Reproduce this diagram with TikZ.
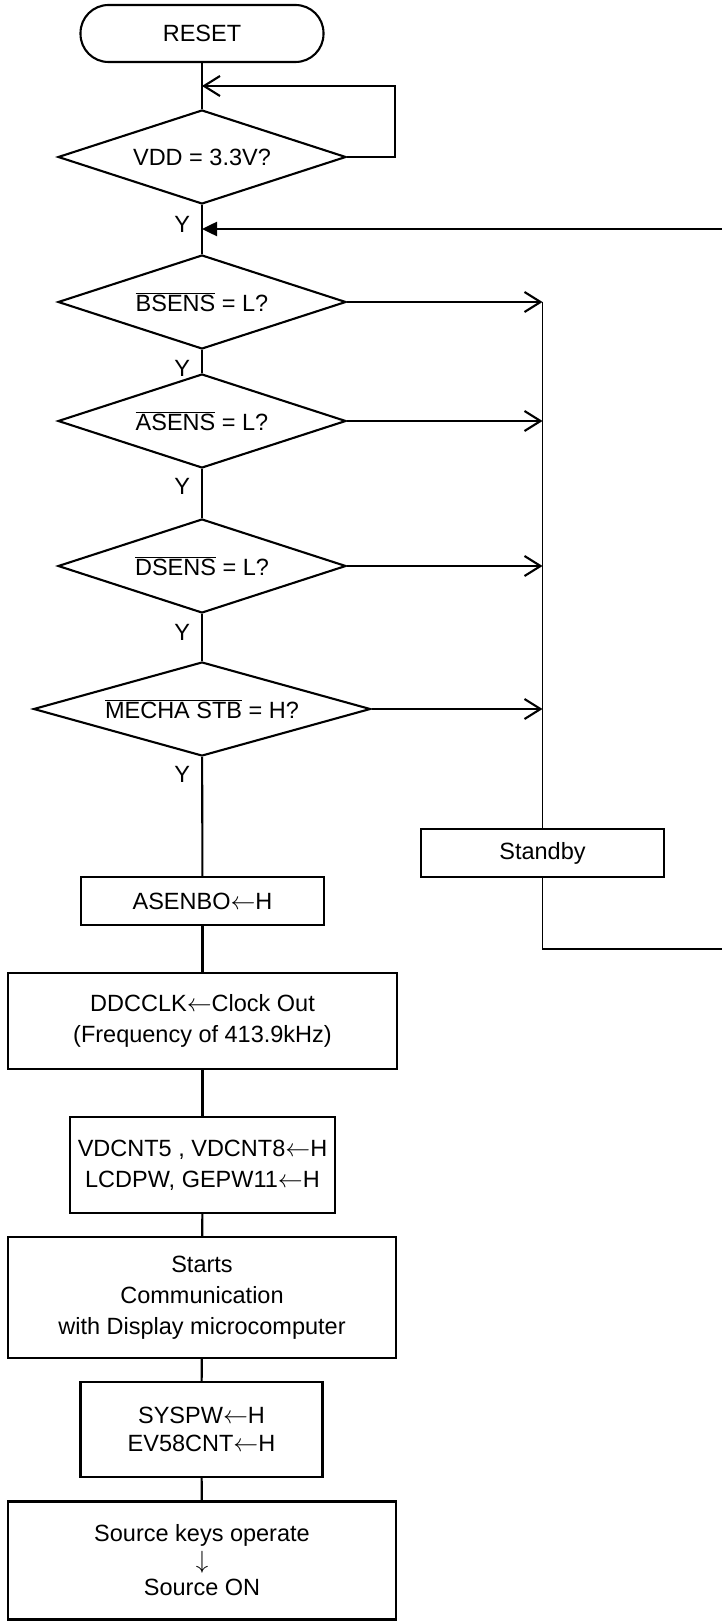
\documentclass[tikz,border=0pt]{standalone}
\usepackage{fontspec}
\setmainfont{Liberation Sans}
\usetikzlibrary{positioning,arrows.meta,shapes.geometric}

\begin{document}
\begin{tikzpicture}[x=1pt,y=-1pt,line width=2.1pt,
  every node/.style={font=\fontsize{23.5}{31}\selectfont, align=center},
  decision/.style={draw, diamond, aspect=3, inner sep=0pt, minimum width=288pt, minimum height=94pt},
  procbox/.style={draw, rectangle, inner sep=0pt},
  ylab/.style={inner sep=0pt},
  openarrow/.style={-{Straight Barb[length=16pt,width=20pt]}},
  fillarrow/.style={-{Triangle[length=15pt,width=14pt]}}]
  \useasboundingbox (0,0) rectangle (722,1621);
  % Start and supply check
  \node[draw, rounded corners=28pt, minimum width=243pt, minimum height=57pt] (reset) at (202,33.5) {RESET};
  \node[decision] (vdd) at (202,157) {VDD = 3.3V?};
  % Sensor checks
  \node[decision] (bsens) at (202,302) {$\overline{\mbox{BSENS}}$ = L?};
  \node[decision] (asens) at (202,421) {$\overline{\mbox{ASENS}}$ = L?};
  \node[decision] (dsens) at (202,566) {$\overline{\mbox{DSENS}}$ = L?};
  \node[decision, minimum width=337pt] (mecha) at (202,709) {$\overline{\mbox{MECHA STB}}$ = H?};
  % Standby branch
  \node[procbox, minimum width=243pt, minimum height=48pt] (standby) at (542.5,853) {Standby};
  % Power-on sequence
  \node[procbox, minimum width=243pt, minimum height=48pt] (asenbo) at (202.5,901) {ASENBO$\leftarrow$H};
  \node[procbox, minimum width=389pt, minimum height=96pt] (ddcclk) at (202.5,1021) {DDCCLK$\leftarrow$Clock Out\\(Frequency of 413.9kHz)};
  \node[procbox, minimum width=265pt, minimum height=96pt] (vdcnt) at (202.5,1165) {VDCNT5 , VDCNT8$\leftarrow$H\\LCDPW, GEPW11$\leftarrow$H};
  \node[procbox, minimum width=388pt, minimum height=121pt] (starts) at (202,1297.5) {Starts\\Communication\\with Display microcomputer};
  \node[procbox, minimum width=242pt, minimum height=95pt] (syspw) at (201.5,1429.5) {SYSPW$\leftarrow$H\\[-3pt]EV58CNT$\leftarrow$H};
  \node[procbox, minimum width=388pt, minimum height=118pt] (source) at (202,1560.5) {Source keys operate\\[-4pt]$\downarrow$\\[-4pt]Source ON};
  % Y labels
  \node[ylab, below left=10pt and 11pt of vdd.south] (yvdd) {Y};
  \node[ylab, below left=9pt and 11pt of bsens.south] (ybsens) {Y};
  \node[ylab, below left=8pt and 11pt of asens.south] (yasens) {Y};
  \node[ylab, below left=9pt and 11pt of dsens.south] (ydsens) {Y};
  \node[ylab, below left=8pt and 11pt of mecha.south] (ymecha) {Y};
  % Loop and return points
  \coordinate (loopx) at (395,0);
  \coordinate (vddin) at (202,86);
  \coordinate (rtop) at (722,229);
  \coordinate (rbot) at (722,949);
  % Main column
  \draw (reset) -- (vdd);
  \draw[openarrow] (vdd.east) -- (vdd.east -| loopx) |- (vddin);
  \draw (vdd) -- (bsens);
  \draw[fillarrow, line width=2.5pt] (rtop) -- (vdd.south |- rtop);
  \draw (bsens) -- (asens);
  \draw (asens) -- (dsens);
  \draw (dsens) -- (mecha);
  \draw (mecha) -- (asenbo);
  \draw (asenbo) -- (ddcclk);
  \draw (ddcclk) -- (vdcnt);
  \draw (vdcnt) -- (starts);
  \draw (starts) -- (syspw);
  \draw (syspw) -- (source);
  % Branches to standby
  \draw[openarrow] (bsens.east) -- (bsens.east -| standby.north);
  \draw[openarrow] (asens.east) -- (asens.east -| standby.north);
  \draw[openarrow] (dsens.east) -- (dsens.east -| standby.north);
  \draw[openarrow] (mecha.east) -- (mecha.east -| standby.north);
  \draw[line width=1.6pt] (bsens.east -| standby.north) -- (standby.north);
  \draw[line width=1.6pt] (standby.south) |- (rbot);
\end{tikzpicture}
\end{document}
